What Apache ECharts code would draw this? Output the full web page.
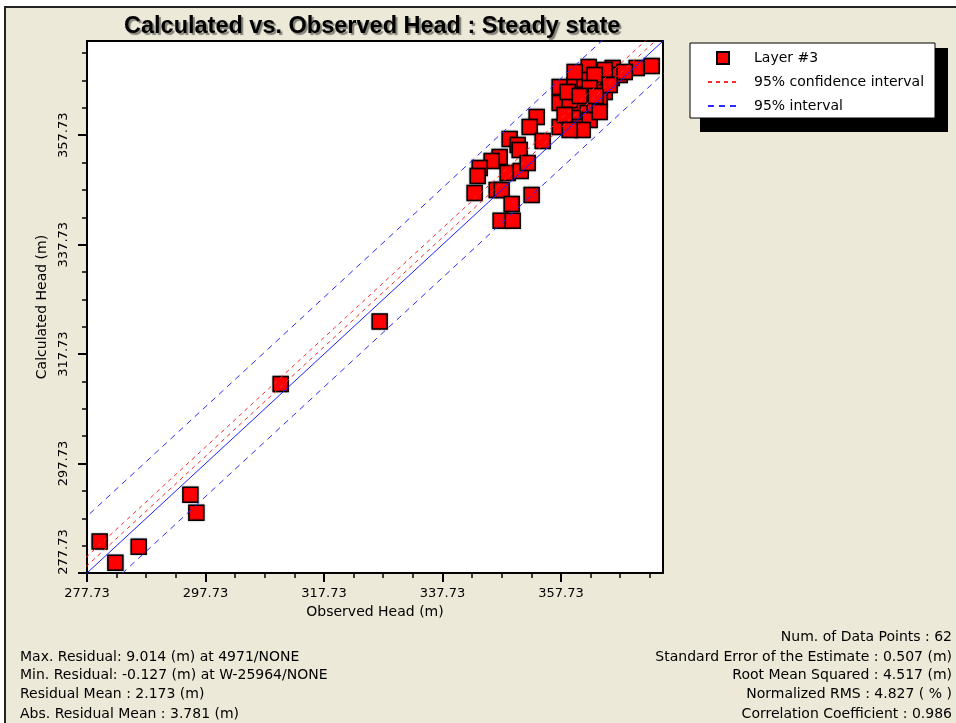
<!DOCTYPE html>
<html><head><meta charset="utf-8">
<script src="https://cdn.jsdelivr.net/npm/echarts/dist/echarts.min.js"></script>
<style>
html,body{margin:0;padding:0;background:#fff;overflow:hidden}
#frame{position:absolute;left:4px;top:6px;width:1000px;height:800px;background:#ECE9D8;border-left:2px solid #222;border-top:2px solid #222}
#c{position:absolute;left:0;top:0;width:956px;height:723px}
</style>
</head><body><div id="frame"></div><div id="c"></div>
<script>
// Observed (x) and calculated (y) heads, Layer #3
const observed = [
  279.87, 282.52, 286.46, 295.18, 296.19, 310.42, 327.13,
  362.41, 366.46, 370.51, 373.04, 357.51, 360.04, 361.73, 364.26, 366.29, 367.64,
  361.73, 365.11, 357.51, 360.89, 364.26, 360.38, 362.24, 357.51, 360.89, 353.63,
  352.45, 354.64, 349.07, 350.42, 350.76, 347.38, 346.03, 344.01, 343.67, 348.73,
  350.93, 352.11, 343.16, 346.88, 347.72, 352.78, 349.41, 347.55, 349.58,
  359.20, 363.42, 362.57, 364.26, 358.35, 360.04, 365.11, 363.42, 361.39, 359.20,
  368.48, 365.95, 362.57, 358.86, 360.89, 363.59
];
const calculated = [
  283.50, 279.61, 282.53, 292.03, 288.74, 312.25, 323.68,
  370.20, 370.02, 370.02, 370.39, 366.55, 366.92, 367.83, 366.92, 368.20, 368.74,
  365.09, 365.64, 363.63, 362.72, 364.18, 360.89, 361.80, 359.25, 359.25, 361.07,
  359.25, 356.69, 357.05, 355.96, 355.05, 353.77, 353.04, 351.76, 350.30, 350.84,
  351.21, 352.67, 347.19, 347.74, 347.74, 346.83, 345.18, 342.08, 342.08,
  364.18, 363.26, 360.52, 361.99, 361.44, 369.29, 369.66, 368.74, 358.70, 358.70,
  369.29, 366.92, 366.37, 365.64, 364.91, 364.91
];
const axisMin = 277.73;
const axisMax = 374.95;
const majorTicks = [277.73, 297.73, 317.73, 337.73, 357.73];
const minorTicks = [282.73, 287.73, 292.73, 302.73, 307.73, 312.73, 322.73, 327.73, 332.73,
                    342.73, 347.73, 352.73, 362.73, 367.73, 372.73];
const residualMean = 2.173;   // centre offset of interval lines
const confHalfWidth = 0.85;   // 95% confidence interval half width
const predHalfWidth = 8.2;    // 95% interval half width
const lineEnds = [axisMin - 20, axisMax + 20];
const statsLeft = [
  'Max. Residual: 9.014 (m) at 4971/NONE',
  'Min. Residual: -0.127 (m) at W-25964/NONE',
  'Residual Mean : 2.173 (m)',
  'Abs. Residual Mean : 3.781 (m)'
];
const statsRight = [
  'Num. of Data Points : 62',
  'Standard Error of the Estimate : 0.507 (m)',
  'Root Mean Squared : 4.517 (m)',
  'Normalized RMS : 4.827 ( % )',
  'Correlation Coefficient : 0.986'
];

const points = observed.map((x, i) => [x, calculated[i]]);
const offsetLine = off => lineEnds.map(x => [x, x + off]);

const FONT = 'DejaVu Sans';

function lineSeries(name, data, color, dash) {
  return {
    type: 'line', name: name, data: data, symbol: 'none', silent: true,
    xAxisIndex: 0, yAxisIndex: 0, z: 5, clip: true, animation: false,
    itemStyle: { color: color, opacity: 0 },
    lineStyle: { color: color, width: 1, type: dash }
  };
}

function valueAxis(isX) {
  return {
    type: 'value', min: axisMin, max: axisMax, gridIndex: 0,
    position: isX ? 'bottom' : 'left',
    name: isX ? 'Observed Head (m)' : 'Calculated Head (m)',
    nameLocation: 'middle', nameGap: isX ? 31 : 35,
    nameTextStyle: { color: '#000', fontFamily: FONT, fontSize: 14 },
    axisLine: { show: true, onZero: false, lineStyle: { color: '#000', width: 2 } },
    axisTick: { show: true, customValues: majorTicks, length: 9, lineStyle: { color: '#000', width: 2 } },
    axisLabel: {
      customValues: majorTicks,
      formatter: v => (!isX && Math.abs(v - axisMin) < 1e-6) ? '{lo|' + Number(v).toFixed(2) + '}' : Number(v).toFixed(2),
      rich: { lo: { padding: [0, 0, 0, 42], fontFamily: FONT, fontSize: 13, color: '#000' } },
      margin: isX ? 14 : 17, rotate: isX ? 0 : 90,
      color: '#000', fontFamily: FONT, fontSize: 13
    },
    splitLine: { show: false }
  };
}
function minorAxis(isX) {
  return {
    type: 'value', min: axisMin, max: axisMax, gridIndex: 0,
    position: isX ? 'bottom' : 'left',
    axisLine: { show: false, onZero: false },
    axisTick: { show: true, customValues: minorTicks, length: 5, lineStyle: { color: '#000', width: 1.5 } },
    axisLabel: { show: false },
    splitLine: { show: false }
  };
}

const chart = echarts.init(document.getElementById('c'), null, { renderer: 'canvas' });
chart.setOption({
  backgroundColor: 'transparent',
  animation: false,
  title: {
    text: 'Calculated vs. Observed Head : Steady state',
    left: 119, top: 10,
    textStyle: {
      fontFamily: 'Liberation Sans', fontWeight: 'bold', fontSize: 23.5, color: '#000',
      textShadowColor: 'rgba(0,0,0,0.45)', textShadowOffsetX: 2, textShadowOffsetY: 2, textShadowBlur: 1
    }
  },
  grid: {
    left: 87, top: 41, width: 576, height: 532,
    show: true, backgroundColor: '#fff', borderColor: '#000', borderWidth: 2, containLabel: false
  },
  legend: {
    data: [
      { name: 'Layer #3', icon: 'path://M0,0M30,12M9,0h12v12h-12z' },
      { name: '95% confidence interval' },
      { name: '95% interval' }
    ],
    orient: 'vertical', left: 707, top: 51, padding: 0,
    itemWidth: 30, itemHeight: 12, itemGap: 10,
    selectedMode: false,
    textStyle: { fontFamily: FONT, fontSize: 14, color: '#000', padding: [0, 0, 0, 11] }
  },
  xAxis: [valueAxis(true), minorAxis(true)],
  yAxis: [valueAxis(false), minorAxis(false)],
  graphic: [
    { type: 'rect', shape: { x: 700, y: 48, width: 248, height: 84 }, style: { fill: '#000' }, z: 1 },
    { type: 'rect', shape: { x: 690, y: 43, width: 245, height: 75 }, style: { fill: '#fff', stroke: '#000', lineWidth: 1 }, z: 2 },
    ...statsLeft.map((t, i) => ({
      type: 'text', z: 3,
      style: { text: t, x: 20, y: [657, 675, 694, 714][i], fill: '#000', fontFamily: FONT, fontSize: 14, align: 'left', verticalAlign: 'middle' }
    })),
    ...statsRight.map((t, i) => ({
      type: 'text', z: 3,
      style: { text: t, x: 952, y: [637, 657, 675, 694, 714][i], fill: '#000', fontFamily: FONT, fontSize: 14, align: 'right', verticalAlign: 'middle' }
    }))
  ],
  series: [
    {
      type: 'scatter', name: 'Layer #3', data: points,
      xAxisIndex: 0, yAxisIndex: 0, z: 3,
      symbol: 'rect', symbolSize: 15,
      itemStyle: { color: '#ff0000', borderColor: '#000', borderWidth: 1.5, shadowColor: 'rgba(0,0,0,0.35)', shadowBlur: 2, opacity: 1 }
    },
    lineSeries('95% confidence interval', offsetLine(residualMean + confHalfWidth), '#ff2a2a', [4, 4]),
    lineSeries('95% confidence interval', offsetLine(residualMean - confHalfWidth), '#ff2a2a', [4, 4]),
    lineSeries('95% interval', offsetLine(residualMean + predHalfWidth), '#2a2aff', [6, 5]),
    lineSeries('95% interval', offsetLine(residualMean - predHalfWidth), '#2a2aff', [6, 5]),
    lineSeries('1:1', offsetLine(0), '#2020ff', 'solid')
  ]
});
</script>
</body></html>
